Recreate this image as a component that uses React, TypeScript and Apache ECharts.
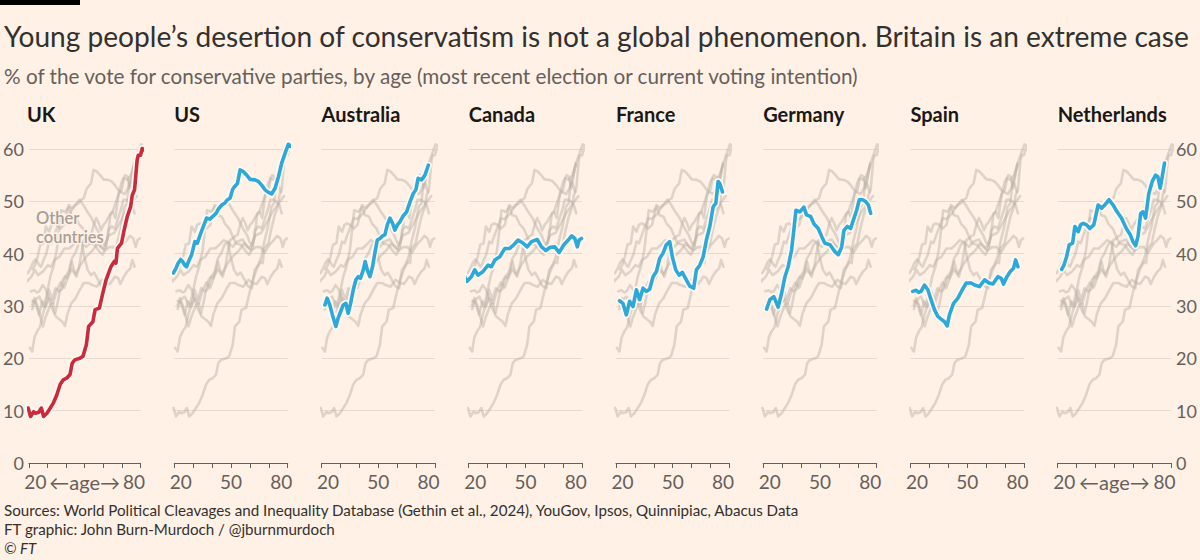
import React, { useEffect, useRef } from "react";
import * as echarts from "echarts";

const COUNTRIES = ["UK", "US", "Australia", "Canada", "France", "Germany", "Spain", "Netherlands"];

const UK_AGE = [19.6, 20.9, 22.6, 23.5, 25.3, 26.7, 27.9, 29.7, 31.5, 33.2, 35, 36.8, 38.5, 40.3, 42.1, 43.3, 44.7, 47.4, 49.1, 50.9, 52.1, 54.4, 55.6, 57.9, 59.7, 61.5, 64.1, 65.9, 66.8, 67.6, 69.8, 71.2, 72.9, 74.7, 75.6, 76.8, 78.2, 78.8, 80, 80.9, 82.6];
const UK_VOTE = [10.5, 8.9, 9.8, 9.5, 9.7, 10.5, 8.9, 9.5, 10.5, 11.5, 13, 15, 15.9, 16.2, 16.9, 19.1, 19.7, 20, 20.4, 22.6, 26.1, 27, 29.3, 29.6, 32.4, 35, 37.5, 38.5, 38.2, 41, 42, 44.5, 47.1, 49, 51.2, 52.2, 57.9, 58.8, 58.8, 60.1, 59.7];

const US_AGE = [19.5, 20.9, 22.1, 23.4, 24.4, 25.6, 26.5, 27.9, 29.2, 30.9, 32.2, 33.6, 35.4, 37.1, 38.9, 40.6, 42.1, 43.3, 45.1, 46.8, 48.1, 49.5, 50.9, 52.1, 53.4, 54.8, 56.5, 58.3, 60.1, 62.7, 64.5, 66.2, 68, 69.8, 71.5, 73.3, 75.1, 76.8, 78.6, 80.3, 82.1];
const US_VOTE = [36.3, 37.2, 38.2, 38.9, 38.5, 37.8, 37.5, 38.8, 39.8, 42.3, 42, 43.5, 45.2, 46.8, 46.6, 47.2, 47.7, 48.5, 49.3, 49.7, 50.3, 50.6, 52.3, 52.9, 53.4, 56, 55.7, 55, 54.2, 54.1, 53.8, 53.1, 52.2, 51.7, 51.4, 52.5, 54.7, 57.3, 59.2, 60.9, 60.4];

const AU_AGE = [21.8, 23, 24.4, 25.8, 27.6, 28.8, 30.1, 31.5, 32.9, 34.1, 35.4, 36.8, 38.2, 39.4, 40.6, 42.1, 43.1, 44.2, 45.6, 47, 48.2, 49.5, 50.9, 52.3, 53.5, 54.8, 56.2, 57.6, 58.8, 60.1, 61.5, 63.2, 65, 66.8, 68.5, 69.9, 71.1, 72.9, 74.7, 76.5];
const AU_VOTE = [30.2, 31.5, 30.2, 28.3, 26.1, 27.7, 28.9, 30.2, 30.5, 28.6, 30.5, 33.1, 35, 35.6, 35.3, 36.9, 38.5, 36.9, 35.6, 37.5, 40.1, 42.6, 42.9, 43.4, 43.6, 45.5, 46.8, 45.8, 44.5, 45.5, 46.1, 47.2, 48, 49.9, 51.5, 52.2, 54.4, 54.1, 55, 56.9];

const CA_AGE = [17.9, 19.1, 21.4, 23.2, 24.9, 27.6, 30.2, 32, 33.8, 36.4, 39.1, 41.7, 43.8, 46.1, 48.8, 50.9, 53.2, 56.2, 58.5, 60.8, 62.9, 65.5, 67.8, 70.3, 72.6, 74.4, 76.1, 77.4, 78.4, 79.6];
const CA_VOTE = [35.6, 34.7, 35.6, 36.9, 35.9, 36.6, 37.8, 37.5, 38.8, 39.4, 41, 41, 41.7, 42.6, 42, 41.3, 42.3, 42.7, 41.3, 40.6, 41.2, 41.3, 40.2, 41.7, 42.6, 43.4, 42.9, 41.3, 42.6, 42.9];

const FR_AGE = [21.9, 23.7, 25.5, 27.2, 29, 30.8, 32.5, 34.3, 36.1, 37.8, 39.6, 41.4, 43.1, 44.9, 46.6, 48.4, 49.8, 51.6, 53.4, 55.1, 57.2, 59, 61.1, 62.5, 64.3, 66.1, 67.8, 69.6, 71.4, 72.8, 74, 74.9, 76.3];
const FR_VOTE = [31, 30.5, 28.3, 30.9, 29.9, 33.1, 31.2, 33.4, 32.8, 33.2, 35.6, 36.6, 39.1, 40.1, 41.7, 42.3, 39.4, 36.9, 35.9, 36.4, 35, 33.8, 33.4, 36.9, 37.8, 39.4, 42.6, 45.2, 49, 49.6, 53.8, 53.4, 51.8];

const DE_AGE = [21.8, 23.5, 25.6, 27.9, 29.7, 31.5, 33.2, 35, 36.2, 37.3, 39.4, 41.5, 42.9, 45.1, 46.8, 49.1, 50.9, 52.6, 55.3, 57.9, 59.7, 61.5, 62.7, 64.5, 66.2, 68, 69.4, 70.8, 72.6, 74.3, 75.6, 76.8];
const DE_VOTE = [29.4, 31.2, 31.8, 29.8, 32.4, 35.6, 37.5, 40.7, 44.5, 48.3, 48, 48.9, 47.4, 47.1, 45.7, 44.8, 43.3, 42, 41.7, 40.4, 39.8, 41.3, 44.5, 45.2, 44.8, 46.8, 48.3, 50.3, 50.3, 49.9, 49.3, 47.7];

const ES_AGE = [21.2, 23, 24.4, 25.6, 27.4, 29.2, 30.9, 32.7, 34.5, 36.2, 38, 39.4, 40.6, 42.8, 45.1, 47.4, 49.5, 52.1, 53.9, 56.5, 59.2, 61.5, 63.6, 66.2, 68, 69.2, 71, 72.8, 74.5, 75.6, 76.8];
const ES_VOTE = [32.8, 33, 32.6, 32.8, 34, 33.1, 31.2, 29.3, 28, 27.5, 27, 26.2, 28.3, 30.5, 31.5, 33.1, 34.4, 34.4, 34, 33.7, 35, 34.4, 34.2, 35.6, 35.3, 34.2, 35.6, 36.6, 37.2, 38.8, 37.5];

const NL_AGE = [22.1, 23.3, 24.7, 26.1, 27.9, 29.1, 30.9, 32.1, 33.5, 35.3, 37, 39.1, 41.4, 43.2, 44.9, 47.2, 49.3, 51.4, 53.7, 56.3, 58.4, 59.8, 61.2, 62.5, 63.9, 65.1, 66.5, 68.2, 70, 71.8, 73, 74.2, 75.3, 76.5];
const NL_VOTE = [37, 37.8, 39.4, 41.7, 42, 45.2, 44.2, 45.5, 45.8, 45.5, 44.8, 45.5, 49.3, 48.7, 49.3, 50.3, 49.3, 48, 46.8, 44.8, 43.6, 42.3, 41.5, 43.3, 47.7, 48, 46.8, 51.5, 53.8, 55, 54.7, 52.5, 54.7, 57.3];

// an extra, unlabelled comparison country visible only in grey
const OTHER_AGE = [20.5, 21.8, 23, 24.5, 26, 27.5, 29, 31, 33, 35, 37, 39, 41, 43, 45, 48, 51, 54, 57, 60, 63, 66, 69, 72, 75, 78];
const OTHER_VOTE = [22, 21.3, 24, 25.2, 26, 28.5, 30, 31.5, 30.5, 33, 34.5, 33.5, 35.5, 37, 36, 38, 39.5, 40.5, 42, 41, 43.5, 44, 46, 48, 49.5, 51];

const AGES = [UK_AGE, US_AGE, AU_AGE, CA_AGE, FR_AGE, DE_AGE, ES_AGE, NL_AGE];
const VOTES = [UK_VOTE, US_VOTE, AU_VOTE, CA_VOTE, FR_VOTE, DE_VOTE, ES_VOTE, NL_VOTE];

const Y_TICKS = [0, 10, 20, 30, 40, 50, 60];
const X_LABELS_PLAIN = ["20", "50", "80"];
const X_MID_AGE_LABEL = "←age→";

const TITLE = "Young people’s desertion of conservatism is not a global phenomenon. Britain is an extreme case";
const SUBTITLE = "% of the vote for conservative parties, by age (most recent election or current voting intention)";
const SOURCES = [
  "Sources: World Political Cleavages and Inequality Database (Gethin et al., 2024), YouGov, Ipsos, Quinnipiac, Abacus Data",
  "FT graphic: John Burn-Murdoch / @jburnmurdoch",
];
const ANNOTATION = ["Other", "countries"];

const FONT = "Lato, 'Noto Sans', sans-serif";
const BG = "#fff1e5";
const INK = "#33302e";
const GREY_TEXT = "#66605c";
const GRID_LINE = "#e6d9ce";
const GREY_LINE = "rgba(185,175,167,0.45)";
const RED = "#cc2a3b";
const BLUE = "#2da8d8";

function zip(a: number[], b: number[]) {
  return a.map((x, i) => [x, b[i]]);
}

export default function App() {
  const ref = useRef<HTMLDivElement>(null);
  useEffect(() => {
    if (!ref.current) return;
    const chart = echarts.init(ref.current, undefined, { renderer: "svg" });
    const n = COUNTRIES.length;
    const left0 = 27;
    const step = 147.24;
    const w = 113.5;
    const grids: any[] = [];
    const xAxes: any[] = [];
    const yAxes: any[] = [];
    const series: any[] = [];
    const graphics: any[] = [];
    for (let i = 0; i < n; i++) {
      const left = left0 + i * step;
      grids.push({ left, top: 149, width: w, height: 314 });
      const edge = i === 0 || i === n - 1;
      xAxes.push({
        type: "value",
        gridIndex: i,
        min: 20,
        max: 80,
        interval: 10,
        axisLine: { show: true, lineStyle: { color: GREY_TEXT, width: 1 } },
        axisTick: { show: true, length: 5, lineStyle: { color: GREY_TEXT, width: 1 } },
        splitLine: { show: false },
        axisLabel: {
          show: true,
          margin: 9,
          fontSize: 19,
          fontFamily: FONT,
          color: GREY_TEXT,
          alignMinLabel: "center",
          alignMaxLabel: "center",
          formatter: (v: number) => {
            if (v === 20) return "{lo|" + X_LABELS_PLAIN[0] + "}";
            if (v === 80) return "{hi|" + X_LABELS_PLAIN[2] + "}";
            if (v === 50) return edge ? "{mid|" + X_MID_AGE_LABEL + "}" : X_LABELS_PLAIN[1];
            return "";
          },
          rich: {
            lo: { fontSize: 19, fontFamily: FONT, color: GREY_TEXT, padding: [0, 0, 0, 13] },
            hi: { fontSize: 19, fontFamily: FONT, color: GREY_TEXT, padding: [0, 13, 0, 0] },
            mid: { fontSize: 20, fontFamily: FONT, color: GREY_TEXT },
          },
        },
      });
      yAxes.push({
        type: "value",
        gridIndex: i,
        min: Y_TICKS[0],
        max: Y_TICKS[Y_TICKS.length - 1],
        interval: 10,
        position: i === n - 1 ? "right" : "left",
        axisLine: { show: false },
        axisTick: { show: false },
        splitLine: { show: true, lineStyle: { color: GRID_LINE, width: 1 } },
        axisLabel: {
          show: edge,
          margin: 5,
          fontSize: 18,
          fontFamily: FONT,
          color: GREY_TEXT,
        },
      });
      const others: number[][][] = [];
      for (let j = 0; j < n; j++) if (j !== i) others.push(zip(AGES[j], VOTES[j]));
      others.push(zip(OTHER_AGE, OTHER_VOTE));
      others.forEach((d) => {
        series.push({
          type: "line",
          xAxisIndex: i,
          yAxisIndex: i,
          data: d,
          showSymbol: false,
          silent: true,
          clip: false,
          z: 1,
          lineStyle: { color: GREY_LINE, width: 2.6, join: "round", cap: "round" },
        });
      });
      const own = zip(AGES[i], VOTES[i]);
      series.push({
        type: "line",
        xAxisIndex: i,
        yAxisIndex: i,
        data: own,
        showSymbol: false,
        silent: true,
        clip: false,
        z: 2,
        lineStyle: { color: "rgba(255,250,246,0.95)", width: 7, join: "round", cap: "round" },
      });
      series.push({
        type: "line",
        xAxisIndex: i,
        yAxisIndex: i,
        data: own,
        showSymbol: false,
        silent: true,
        clip: false,
        z: 3,
        lineStyle: { color: i === 0 ? RED : BLUE, width: 3.6, join: "round", cap: "round" },
      });
      graphics.push({
        type: "text",
        x: left,
        y: 114,
        style: {
          text: COUNTRIES[i],
          fontSize: 20,
          fontWeight: 700,
          fontFamily: FONT,
          fill: "#1a1817",
          textVerticalAlign: "middle",
        },
      });
    }

    graphics.push({ type: "rect", shape: { x: 0, y: 0, width: 80, height: 5 }, style: { fill: "#000" } });
    graphics.push({
      type: "text",
      x: 4,
      y: 36,
      style: { text: TITLE, fontSize: 28.1, fontFamily: FONT, fill: INK, textVerticalAlign: "middle" },
    });
    graphics.push({
      type: "text",
      x: 4,
      y: 76,
      style: { text: SUBTITLE, fontSize: 20.7, fontFamily: FONT, fill: GREY_TEXT, textVerticalAlign: "middle" },
    });
    ANNOTATION.forEach((t, k) => {
      graphics.push({
        type: "text",
        x: 36,
        y: 218 + k * 19,
        z: 10,
        style: {
          text: t,
          fontSize: 16.5,
          lineHeight: 17,
          fontWeight: 600,
          fontFamily: FONT,
          fill: "#a79f98",
          textVerticalAlign: "middle",
          stroke: BG,
          lineWidth: 3,
        },
      });
    });
    SOURCES.forEach((s, k) => {
      graphics.push({
        type: "text",
        x: 4,
        y: 510 + k * 19,
        style: { text: s, fontSize: 15.15, fontFamily: FONT, fill: INK, textVerticalAlign: "middle" },
      });
    });
    graphics.push({
      type: "text",
      x: 4,
      y: 548,
      style: { text: "© FT", fontSize: 15, fontStyle: "italic", fontFamily: FONT, fill: INK, textVerticalAlign: "middle" },
    });

    chart.setOption({
      animation: false,
      backgroundColor: BG,
      grid: grids,
      xAxis: xAxes,
      yAxis: yAxes,
      series,
      graphic: graphics,
    });
    return () => chart.dispose();
  }, []);
  return (
    <div
      ref={ref}
      style={{ position: "fixed", left: 0, top: 0, width: 1200, height: 560 }}
    />
  );
}
